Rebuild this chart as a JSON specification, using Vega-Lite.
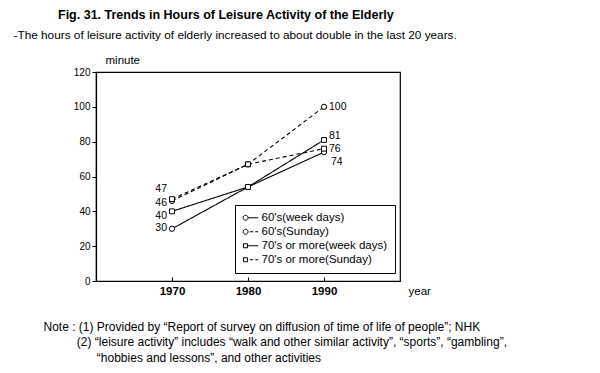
{
  "$schema": "https://vega.github.io/schema/vega-lite/v6.json",
  "width": 304,
  "height": 209,
  "autosize": "none",
  "padding": {"left": 96, "top": 72, "right": 200, "bottom": 92},
  "background": "white",
  "title": {
    "text": "Fig. 31. Trends in Hours of Leisure Activity of the Elderly",
    "anchor": "start",
    "frame": "group",
    "dx": -38,
    "offset": 8,
    "font": "Liberation Sans",
    "fontSize": 12.5,
    "fontWeight": "bold",
    "color": "black"
  },
  "data": {
    "values": [
      {"series": "60's(week days)", "age": "60's", "day": "week days", "year": 1970, "value": 30},
      {"series": "60's(week days)", "age": "60's", "day": "week days", "year": 1980, "value": 54},
      {"series": "60's(week days)", "age": "60's", "day": "week days", "year": 1990, "value": 74},
      {"series": "60's(Sunday)", "age": "60's", "day": "Sunday", "year": 1970, "value": 46},
      {"series": "60's(Sunday)", "age": "60's", "day": "Sunday", "year": 1980, "value": 67},
      {"series": "60's(Sunday)", "age": "60's", "day": "Sunday", "year": 1990, "value": 100},
      {"series": "70's or more(week days)", "age": "70's or more", "day": "week days", "year": 1970, "value": 40},
      {"series": "70's or more(week days)", "age": "70's or more", "day": "week days", "year": 1980, "value": 54},
      {"series": "70's or more(week days)", "age": "70's or more", "day": "week days", "year": 1990, "value": 81},
      {"series": "70's or more(Sunday)", "age": "70's or more", "day": "Sunday", "year": 1970, "value": 47},
      {"series": "70's or more(Sunday)", "age": "70's or more", "day": "Sunday", "year": 1980, "value": 67},
      {"series": "70's or more(Sunday)", "age": "70's or more", "day": "Sunday", "year": 1990, "value": 76}
    ]
  },
  "config": {
    "font": "Liberation Sans",
    "view": {"stroke": "black", "strokeWidth": 1.2},
    "axis": {"grid": false, "domainColor": "black", "tickColor": "black", "labelColor": "black", "titleColor": "black", "domainWidth": 1.2}
  },
  "resolve": {"axis": {"x": "independent", "y": "independent"}},
  "layer": [
    {
      "mark": {"type": "line", "color": "black", "strokeWidth": 1.1},
      "encoding": {
        "x": {"field": "year", "type": "quantitative", "scale": {"domain": [1960, 2000], "nice": false},
          "axis": {"orient": "bottom", "values": [1970, 1980, 1990], "format": "d", "tickSize": -4, "labelPadding": 8, "labelFontSize": 11.5, "labelFontWeight": "bold",
            "title": "year", "titleX": 312, "titleY": 10, "titleAngle": 0, "titleAlign": "left", "titleBaseline": "middle", "titleFontSize": 11.5, "titleFontWeight": "normal"}},
        "y": {"field": "value", "type": "quantitative", "scale": {"domain": [0, 120], "nice": false},
          "axis": {"orient": "left", "values": [0, 20, 40, 60, 80, 100, 120], "tickSize": 4, "labelPadding": 2, "labelFontSize": 10,
            "title": "minute", "titleX": 9, "titleY": -12, "titleAngle": 0, "titleAlign": "left", "titleBaseline": "middle", "titleFontSize": 11.5, "titleFontWeight": "normal"}},
        "detail": {"field": "series"},
        "strokeDash": {"field": "day", "type": "nominal", "scale": {"domain": ["week days", "Sunday"], "range": [[1, 0], [4, 3]]}, "legend": null}
      }
    },
    {
      "transform": [{"filter": {"field": "age", "equal": "60's"}}],
      "mark": {"type": "point", "shape": "circle", "filled": true, "fill": "white", "stroke": "black", "strokeWidth": 1, "size": 28, "opacity": 1},
      "encoding": {
        "x": {"field": "year", "type": "quantitative",
          "axis": {"orient": "top", "labels": false, "ticks": false, "domain": false,
            "title": "-The hours of leisure activity of elderly increased to about double in the last 20 years.",
            "titleX": -83, "titleY": -38, "titleAngle": 0, "titleAlign": "left", "titleBaseline": "middle", "titleFontSize": 11.8, "titleFontWeight": "normal"}},
        "y": {"field": "value", "type": "quantitative",
          "axis": {"orient": "right", "labels": false, "ticks": false, "domain": false,
            "title": [
              "Note : (1) Provided by “Report of survey on diffusion of time of life of people”; NHK",
              "\u200b\u00a0\u00a0\u00a0\u00a0\u00a0\u00a0\u00a0\u00a0\u00a0\u00a0(2) “leisure activity” includes “walk and other similar activity”, “sports”, “gambling”,",
              "\u200b\u00a0\u00a0\u00a0\u00a0\u00a0\u00a0\u00a0\u00a0\u00a0\u00a0\u00a0\u00a0\u00a0\u00a0\u00a0\u00a0“hobbies and lessons”, and other activities"
            ],
            "titleX": -357, "titleY": 249, "titleAngle": 0, "titleAlign": "left", "titleBaseline": "top", "titleFontSize": 12, "titleFontWeight": "normal", "titleLineHeight": 15.5}}
      }
    },
    {
      "transform": [{"filter": {"field": "age", "equal": "70's or more"}}],
      "mark": {"type": "point", "shape": "square", "filled": true, "fill": "white", "stroke": "black", "strokeWidth": 1, "size": 24, "opacity": 1},
      "encoding": {
        "x": {"field": "year", "type": "quantitative", "axis": null},
        "y": {"field": "value", "type": "quantitative", "axis": null}
      }
    },
    {
      "mark": {"type": "point", "opacity": 0},
      "encoding": {
        "x": {"field": "year", "type": "quantitative", "axis": null},
        "y": {"field": "value", "type": "quantitative", "axis": null},
        "shape": {"field": "series", "type": "nominal",
          "scale": {"domain": ["60's(week days)", "60's(Sunday)", "70's or more(week days)", "70's or more(Sunday)"],
            "range": [
              "M-1.54,0A0.5,0.5 0 1,1 -0.54,0A0.5,0.5 0 1,1 -1.54,0M-0.54,0L1.5,0",
              "M-1.54,0A0.5,0.5 0 1,1 -0.54,0A0.5,0.5 0 1,1 -1.54,0M-0.2,0L0.5,0M0.9,0L1.5,0",
              "M-1.44,-0.4L-0.64,-0.4L-0.64,0.4L-1.44,0.4ZM-0.64,0L1.5,0",
              "M-1.44,-0.4L-0.64,-0.4L-0.64,0.4L-1.44,0.4ZM-0.2,0L0.5,0M0.9,0L1.5,0"
            ]},
          "legend": {"orient": "none", "legendX": 139, "legendY": 133, "title": null, "strokeColor": "black", "fillColor": "white", "padding": 7,
            "labelFontSize": 11.5, "labelColor": "black", "symbolSize": 100, "symbolStrokeColor": "black", "symbolFillColor": "white", "symbolStrokeWidth": 1,
            "symbolOpacity": 1, "rowPadding": 1, "labelOffset": 5, "symbolOffset": 3}}
      }
    },
    {
      "transform": [{"filter": {"field": "year", "equal": 1990}}, {"filter": {"field": "series", "oneOf": ["60's(Sunday)", "70's or more(Sunday)"]}}],
      "mark": {"type": "text", "align": "left", "dx": 5, "dy": 0, "fontSize": 10.5, "color": "black"},
      "encoding": {"x": {"field": "year", "type": "quantitative", "axis": null}, "y": {"field": "value", "type": "quantitative", "axis": null}, "text": {"field": "value"}}
    },
    {
      "transform": [{"filter": {"field": "year", "equal": 1990}}, {"filter": {"field": "series", "equal": "70's or more(week days)"}}],
      "mark": {"type": "text", "align": "left", "dx": 5, "dy": -4, "fontSize": 10.5, "color": "black"},
      "encoding": {"x": {"field": "year", "type": "quantitative", "axis": null}, "y": {"field": "value", "type": "quantitative", "axis": null}, "text": {"field": "value"}}
    },
    {
      "transform": [{"filter": {"field": "year", "equal": 1990}}, {"filter": {"field": "series", "equal": "60's(week days)"}}],
      "mark": {"type": "text", "align": "left", "dx": 7, "dy": 10, "fontSize": 10.5, "color": "black"},
      "encoding": {"x": {"field": "year", "type": "quantitative", "axis": null}, "y": {"field": "value", "type": "quantitative", "axis": null}, "text": {"field": "value"}}
    },
    {
      "transform": [{"filter": {"field": "year", "equal": 1970}}, {"filter": {"field": "series", "equal": "70's or more(Sunday)"}}],
      "mark": {"type": "text", "align": "right", "dx": -5, "dy": -10, "fontSize": 10.5, "color": "black"},
      "encoding": {"x": {"field": "year", "type": "quantitative", "axis": null}, "y": {"field": "value", "type": "quantitative", "axis": null}, "text": {"field": "value"}}
    },
    {
      "transform": [{"filter": {"field": "year", "equal": 1970}}, {"filter": {"field": "series", "equal": "60's(Sunday)"}}],
      "mark": {"type": "text", "align": "right", "dx": -5, "dy": 2, "fontSize": 10.5, "color": "black"},
      "encoding": {"x": {"field": "year", "type": "quantitative", "axis": null}, "y": {"field": "value", "type": "quantitative", "axis": null}, "text": {"field": "value"}}
    },
    {
      "transform": [{"filter": {"field": "year", "equal": 1970}}, {"filter": {"field": "series", "equal": "70's or more(week days)"}}],
      "mark": {"type": "text", "align": "right", "dx": -5, "dy": 5, "fontSize": 10.5, "color": "black"},
      "encoding": {"x": {"field": "year", "type": "quantitative", "axis": null}, "y": {"field": "value", "type": "quantitative", "axis": null}, "text": {"field": "value"}}
    },
    {
      "transform": [{"filter": {"field": "year", "equal": 1970}}, {"filter": {"field": "series", "equal": "60's(week days)"}}],
      "mark": {"type": "text", "align": "right", "dx": -5, "dy": -1, "fontSize": 10.5, "color": "black"},
      "encoding": {"x": {"field": "year", "type": "quantitative", "axis": null}, "y": {"field": "value", "type": "quantitative", "axis": null}, "text": {"field": "value"}}
    }
  ]
}
